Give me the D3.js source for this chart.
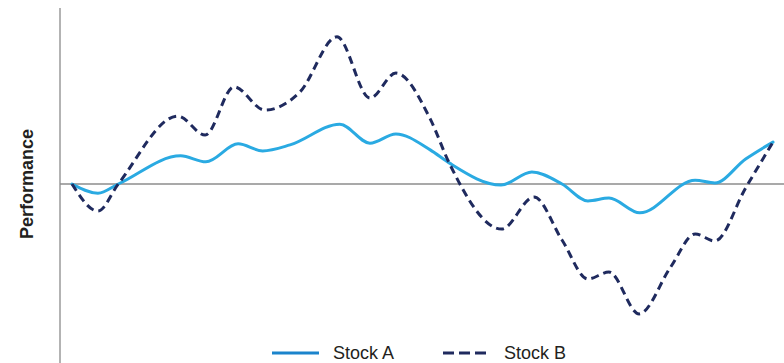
<!DOCTYPE html>
<html>
<head>
<meta charset="utf-8">
<script src="https://cdn.jsdelivr.net/npm/d3@7/dist/d3.min.js"></script>
<style>
  html, body { margin: 0; padding: 0; background: #fff; }
  svg { display: block; font-family: "Liberation Sans", Arial, Helvetica, sans-serif; }
</style>
</head>
<body>
<svg id="chart" width="784" height="363"></svg>
<script>
// Relative performance of two stocks over the same period (day index, % vs start)
const daysA   = [0, 3.7, 6.6, 15.5, 19.1, 23.7, 27.2, 31.1, 38.2, 42.5, 46.2, 51.1, 53.8, 61.2, 65.6, 69.9, 73.6, 76.6, 81.0, 88.9, 91.7, 96.1, 100];
const stockA  = [0, -2.6, 0, 8.0, 6.3, 11.4, 9.4, 11.1, 17.0, 11.6, 14.2, 9.7, 6.0, -0.3, 3.4, 0, -4.8, -4.0, -8.2, 1.1, 0.3, 7.1, 11.9];

const daysB   = [0, 3.7, 6.6, 15.1, 19.0, 23.1, 27.5, 32.5, 37.8, 42.5, 46.2, 51.1, 53.8, 61.3, 65.9, 69.9, 73.6, 76.6, 80.9, 85.4, 88.9, 91.7, 96.1, 100];
const stockB  = [0, -7.7, 0, 19.3, 13.9, 27.6, 21.0, 26.1, 41.8, 24.4, 31.5, 18.5, 6.0, -12.8, -3.7, -15.9, -27.0, -25.0, -36.9, -23.6, -14.2, -16.2, -1.1, 11.9];

const seriesNames = ["Stock A", "Stock B"];
const yLabel = "Performance";

const svg = d3.select("#chart");

const x = d3.scaleLinear().domain([0, 100]).range([72, 773]);
const y = d3.scaleLinear().domain([-50, 50]).range([360, 8]);

// Vertical axis
svg.append("line")
  .attr("x1", 60).attr("x2", 60)
  .attr("y1", 8).attr("y2", 363)
  .attr("stroke", "#9a9a9a").attr("stroke-width", 1.5);

// Zero baseline
svg.append("line")
  .attr("x1", 60).attr("x2", 784)
  .attr("y1", y(0)).attr("y2", y(0))
  .attr("stroke", "#8c8c8c").attr("stroke-width", 1.5);

// Axis title
svg.append("text")
  .attr("transform", `translate(33,${y(0)}) rotate(-90)`)
  .attr("text-anchor", "middle")
  .attr("font-size", 18)
  .attr("font-weight", "bold")
  .attr("fill", "#231f20")
  .text(yLabel);

const line = d3.line()
  .x(d => x(d[0]))
  .y(d => y(d[1]))
  .curve(d3.curveMonotoneX);

const ptsA = daysA.map((d, i) => [d, stockA[i]]);
const ptsB = daysB.map((d, i) => [d, stockB[i]]);

svg.append("path")
  .attr("d", line(ptsA))
  .attr("fill", "none")
  .attr("stroke", "#2aaae2")
  .attr("stroke-width", 3)
  .attr("stroke-linejoin", "round")
  .attr("stroke-linecap", "round");

svg.append("path")
  .attr("d", line(ptsB))
  .attr("fill", "none")
  .attr("stroke", "#1f2a5e")
  .attr("stroke-width", 3)
  .attr("stroke-dasharray", "8,5");

// Legend
const legend = svg.append("g");
const legendItems = [
  { name: seriesNames[0], x: 272, color: "#1b84cc", dash: null },
  { name: seriesNames[1], x: 443, color: "#1f2a5e", dash: "11,5" }
];
legendItems.forEach(it => {
  legend.append("line")
    .attr("x1", it.x).attr("x2", it.x + 47)
    .attr("y1", 353).attr("y2", 353)
    .attr("stroke", it.color)
    .attr("stroke-width", 3)
    .attr("stroke-dasharray", it.dash);
  legend.append("text")
    .attr("x", it.x + 61)
    .attr("y", 359)
    .attr("font-size", 18)
    .attr("fill", "#231f20")
    .text(it.name);
});
</script>
</body>
</html>
